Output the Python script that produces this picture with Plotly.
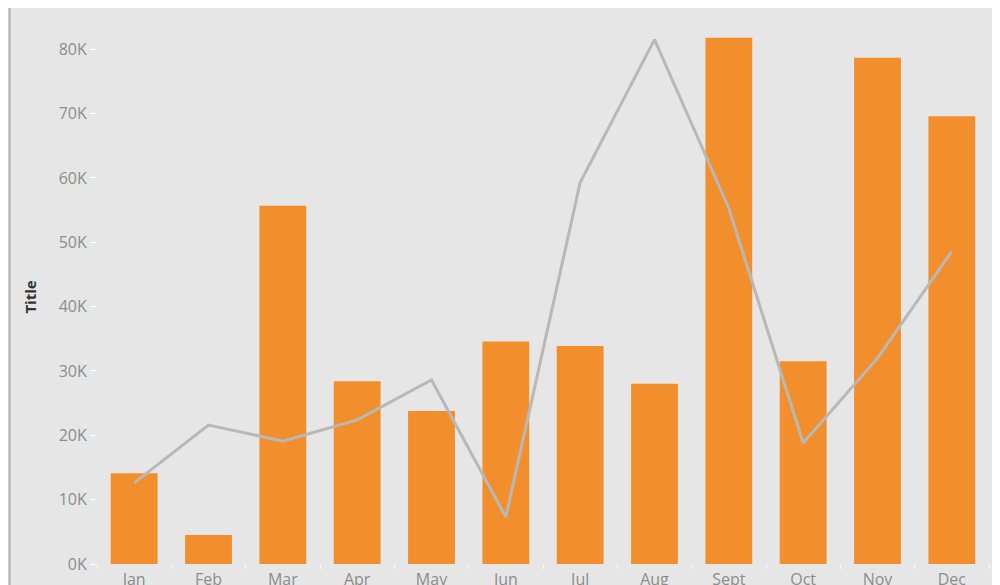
import plotly.graph_objects as go

# monthly values, in thousands
months = ["Jan", "Feb", "Mar", "Apr", "May", "Jun", "Jul", "Aug", "Sept", "Oct", "Nov", "Dec"]
bar_values = [14.1, 4.5, 55.7, 28.4, 23.8, 34.6, 33.9, 28.0, 81.8, 31.5, 78.7, 69.6]
line_values = [12.6, 21.6, 19.1, 22.4, 28.6, 7.3, 59.3, 81.5, 55.3, 18.8, 32.0, 48.6]
y_ticks = [0, 10, 20, 30, 40, 50, 60, 70, 80]
y_labels = [str(v) + "K" for v in y_ticks]

bg = "#e6e6e6"

fig = go.Figure()
fig.add_trace(go.Bar(
    x=months, y=bar_values,
    marker=dict(color="#f28e2b", line=dict(width=0)),
    width=0.63,
))
fig.add_trace(go.Scatter(
    x=months, y=line_values,
    mode="lines",
    line=dict(color="#b8b8b8", width=3),
))

# page has an 8px body margin, so margins are shifted to compensate
fig.update_layout(
    width=1000, height=585,
    paper_bgcolor=bg, plot_bgcolor=bg,
    showlegend=False,
    margin=dict(l=89, r=19, t=22, b=29),
    font=dict(family="Open Sans", color="#8c8c8c"),
    xaxis=dict(
        automargin=False,
        showgrid=False, zeroline=False, showline=False,
        ticks="outside", tickson="boundaries", ticklen=4, tickcolor="white",
        ticklabelstandoff=4,
        tickfont=dict(size=16, color="#8c8c8c"),
    ),
    yaxis=dict(
        automargin=False,
        range=[0, 83], tickvals=y_ticks, ticktext=y_labels,
        showgrid=False, zeroline=False, showline=False,
        ticks="outside", ticklen=6, tickcolor="white",
        tickfont=dict(size=16, color="#8c8c8c"),
        title=dict(text="<b>Title</b>", font=dict(size=15, color="#333333"), standoff=18),
    ),
    shapes=[dict(type="line", xref="paper", yref="paper",
                 x0=-0.098, x1=-0.098, y0=-0.1, y1=1.1,
                 line=dict(color="#b0b0b0", width=2))],
)

fig.write_html("out.html")
